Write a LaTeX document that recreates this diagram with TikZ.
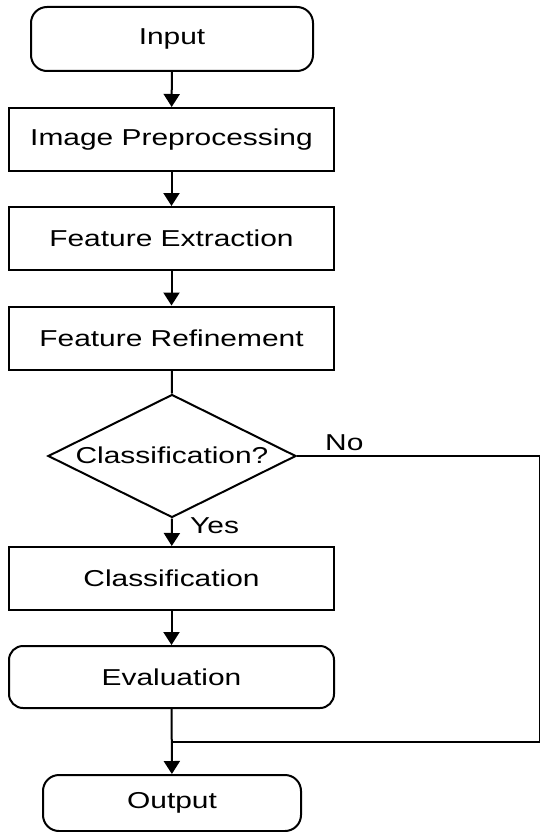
\documentclass[tikz,border=0pt]{standalone}
\usepackage{fontspec}
\setmainfont{Liberation Sans}
\usepackage{graphicx}
\usetikzlibrary{arrows.meta,shapes.geometric}
\newcommand{\wtext}[1]{\scalebox{1.30}[1]{#1}}
\begin{document}
\begin{tikzpicture}[x=1pt,y=-1pt,
  txt/.style={font=\fontsize{23}{27}\selectfont},
  box/.style={draw, line width=2pt, minimum width=325pt, minimum height=63pt, inner sep=0pt, txt},
  term/.style={box, rounded corners=16pt},
  arr/.style={line width=2pt, -{Triangle[length=13pt,width=16pt]}},
  ln/.style={line width=2pt},
  lbl/.style={txt, inner sep=0pt, anchor=base west}]
\useasboundingbox (0,0) rectangle (539,832);

\node[term, minimum width=282pt, minimum height=64pt] (in) at (172,39) {\wtext{Input}};
\node[box] (pre) at (171.5,139.5) {\wtext{Image Preprocessing}};
\node[box] (fe) at (171.5,238.5) {\wtext{Feature Extraction}};
\node[box] (fr) at (171.5,338) {\wtext{Feature Refinement}};
\node[diamond, draw, line width=2pt, minimum width=248pt, minimum height=123pt, inner sep=0pt] (dia) at (172,456) {};
\node[txt, inner sep=0pt] (diatext) at (172,455) {\wtext{Classification?}};
\node[box] (cls) at (171.5,578.5) {\wtext{Classification}};
\node[term, rounded corners=14pt, minimum height=62pt] (ev) at (171.5,677) {\wtext{Evaluation}};
\node[term, minimum width=258pt, minimum height=56pt] (out) at (172,803) {\wtext{Output}};

\node[lbl] (no) at (325,450) {\wtext{No}};
\node[lbl] (yes) at (190,533) {\wtext{Yes}};

\coordinate (j) at (172,742);
\coordinate (r1) at (539.7,456);
\coordinate (r2) at (539.7,742);

\draw[arr] (in) -- (pre);
\draw[arr] (pre) -- (fe);
\draw[arr] (fe) -- (fr);
\draw[ln] (fr) -- (dia.north);
\draw[arr] (dia.south) -- (cls);
\draw[arr] (cls) -- (ev);
\draw[arr] (ev) -- (out);
\draw[ln] (dia.east) -- (r1) -- (r2) -- (j);
\end{tikzpicture}
\end{document}
